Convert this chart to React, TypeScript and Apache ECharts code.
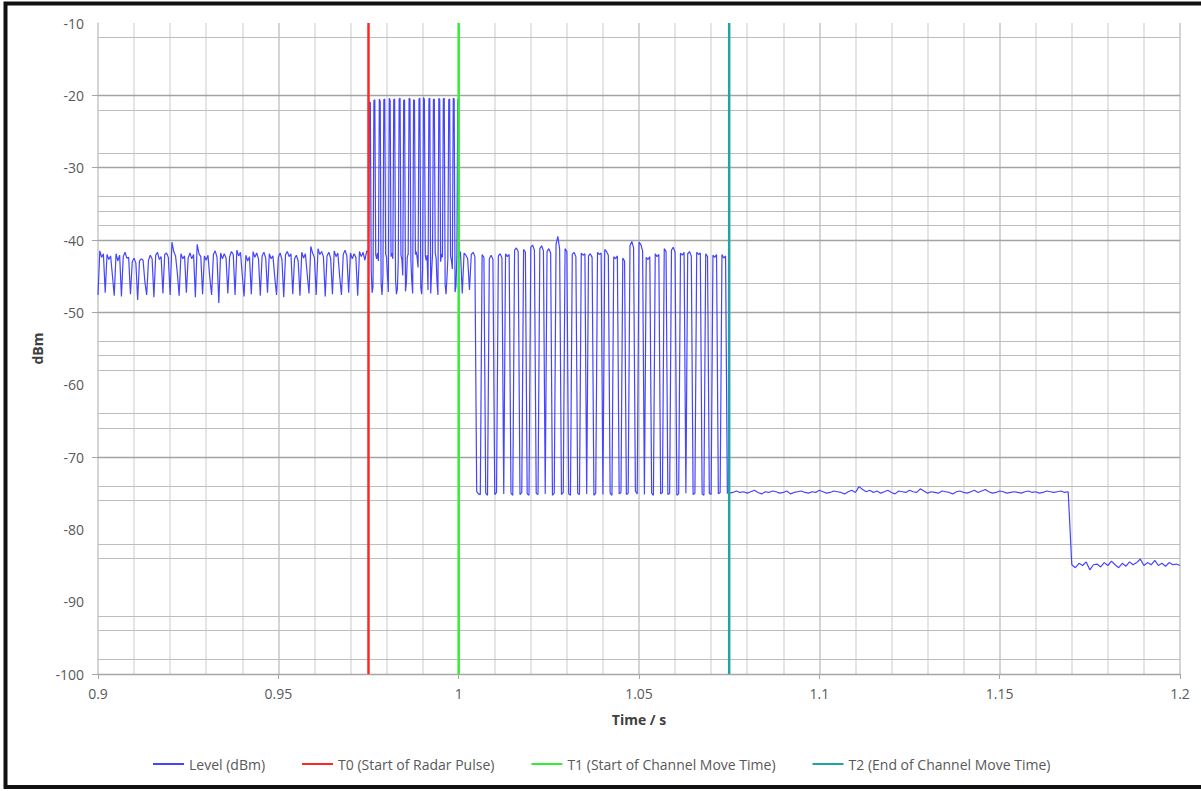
import React, { useEffect, useRef } from "react";
import * as echarts from "echarts";

// Measured level trace, split into sampled segments (dBm).
// 0.900 s – 0.975 s, every 0.5 ms: idle channel activity
const levelIdle = [
  -47.6,
  -41.5, -42.4, -41.9, -47.3,
  -42.0, -42.7, -42.2, -44.9, -47.7,
  -41.9, -42.9, -42.1, -47.8,
  -42.3, -41.7, -42.5, -42.4, -47.5,
  -43.0, -42.5, -43.2, -48.3,
  -42.9, -42.6, -42.8, -45.8, -47.6,
  -42.8, -42.1, -42.6, -47.9,
  -42.1, -41.7, -42.7, -42.3, -47.4,
  -42.0, -41.8, -42.4, -47.6,
  -40.3, -41.6, -42.2, -44.6, -47.7,
  -41.9, -42.6, -42.2, -47.3,
  -42.5, -41.8, -42.6, -42.0, -47.9,
  -40.6, -41.9, -42.3, -47.5,
  -42.2, -42.8, -42.1, -45.2, -47.6,
  -42.0, -41.5, -42.4, -48.7,
  -41.8, -42.6, -41.9, -42.5, -47.4,
  -42.3, -41.6, -42.0, -47.6,
  -41.4, -42.2, -41.7, -44.8, -47.8,
  -42.1, -42.9, -42.3, -47.5,
  -41.6, -42.4, -41.8, -42.6, -47.7,
  -42.2, -41.7, -42.5, -47.3,
  -41.9, -42.6, -42.2, -45.1, -47.6,
  -42.4, -41.8, -42.7, -47.9,
  -42.0, -41.6, -42.3, -41.9, -47.5,
  -42.6, -42.1, -42.9, -47.7,
  -41.7, -42.5, -41.9, -44.7, -47.4,
  -40.9, -41.8, -42.4, -47.6,
  -41.2, -42.0, -41.6, -42.3, -47.8,
  -42.2, -41.7, -42.5, -47.5,
  -41.5, -42.3, -41.8, -45.0, -47.6,
  -42.0, -41.4, -42.2, -47.3,
  -41.8, -42.6, -41.9, -42.4, -47.7,
  -41.6, -42.3, -41.7, -42.8, -41.5,
];

// 0.975 s – 1.000 s, every 0.25 ms: radar pulses on top of the traffic
const levelRadar = [
  -41.7,
  -20.9, -21.0, -44.2, -47.3, -46.5,
  -20.7, -20.6, -42.0, -42.6, -41.8, -42.9,
  -20.5, -20.8, -46.1, -47.6, -45.0,
  -20.6, -20.5, -41.9, -42.4, -44.8, -47.2,
  -20.4, -20.7, -42.3, -41.8, -42.6,
  -20.6, -20.5, -45.5, -47.5, -46.8, -43.0,
  -20.5, -20.4, -42.1, -42.7, -44.9,
  -20.7, -20.6, -47.1, -46.0, -42.4, -41.9,
  -20.4, -20.5, -42.8, -45.7, -47.4,
  -20.6, -20.7, -42.0, -41.6, -42.5, -43.8,
  -20.5, -20.4, -46.6, -47.5, -44.1,
  -20.3, -20.6, -42.2, -42.8, -42.1, -46.9,
  -20.5, -20.4, -47.4, -44.5, -42.0,
  -20.6, -20.5, -41.8, -42.5, -45.8, -47.6,
  -20.4, -20.6, -43.0, -41.9, -42.4,
  -20.5, -20.4, -46.2, -47.5, -45.3, -42.6,
  -20.6, -20.5, -42.2, -42.9, -44.0,
  -20.4, -20.5, -47.2, -46.4, -42.3, -20.5,
];

// 1.000 s – 1.005 s, every 0.5 ms
const levelAfterPulse = [-42.4, -41.6, -47.4, -41.8, -42.1, -42.6, -46.9, -42.0, -41.7, -42.3];

// 1.005 s – 1.075 s, every 0.5 ms: channel move in progress
const levelMove = [
  -74.8, -75.1, -75.2, -42.0, -42.4, -75.0, -75.3, -42.6, -42.1, -42.7,
  -75.2, -74.9, -42.2, -41.9, -42.5, -75.1, -41.9, -42.3, -42.0, -75.0,
  -75.3, -41.4, -41.1, -41.6, -75.2, -74.9, -41.3, -41.7, -75.1, -75.3,
  -41.0, -40.7, -41.4, -75.0, -75.2, -41.2, -40.8, -41.5, -75.1, -41.6,
  -41.2, -41.8, -75.3, -75.0, -40.6, -39.5, -41.3, -75.2, -74.9, -41.2,
  -41.6, -75.1, -75.3, -42.0, -41.7, -42.3, -75.0, -75.2, -41.8, -42.1,
  -41.9, -75.1, -42.2, -41.9, -42.4, -75.3, -75.0, -41.7, -42.0, -41.8,
  -75.2, -41.3, -41.6, -42.1, -75.0, -75.3, -42.3, -42.6, -42.2, -75.1,
  -74.9, -42.5, -42.9, -75.2, -75.0, -40.8, -40.2, -41.1, -74.7, -75.1,
  -40.3, -40.6, -41.5, -75.2, -42.4, -42.7, -42.3, -75.0, -75.3, -41.9,
  -42.3, -42.0, -75.1, -74.9, -41.2, -41.6, -75.2, -75.0, -41.4, -41.0,
  -41.7, -75.3, -75.1, -41.8, -42.1, -41.7, -75.0, -41.9, -41.6, -42.2,
  -75.2, -75.0, -41.7, -42.0, -41.8, -75.1, -75.3, -41.9, -42.3, -75.0,
  -75.2, -42.1, -42.4, -42.0, -75.1, -74.9, -42.0, -42.5, -42.2, -75.0,
];

// 1.075 s – 1.169 s, every 1 ms: residual level after the move
const levelResidual = [
  -75.0, -74.9, -74.7, -74.9, -74.8, -75.0, -74.8, -74.6, -74.9, -75.1,
  -74.8, -74.9, -74.7, -74.8, -75.0, -74.9, -74.7, -75.1, -74.9, -74.8,
  -74.7, -74.9, -75.0, -74.8, -74.9, -74.6, -74.8, -75.0, -74.9, -74.7,
  -74.8, -74.9, -75.1, -74.8, -74.6, -74.9, -74.1, -74.5, -74.8, -74.6,
  -74.9, -74.7, -75.0, -74.8, -74.6, -74.9, -75.1, -74.7, -74.8, -74.9,
  -74.6, -74.8, -74.9, -74.4, -74.7, -75.0, -74.8, -74.9, -75.0, -74.7,
  -74.8, -74.9, -75.1, -74.8, -74.7, -74.9, -75.0, -74.8, -74.6, -74.9,
  -74.7, -74.5, -74.8, -75.0, -74.9, -74.7, -74.8, -75.0, -74.9, -74.8,
  -74.9, -75.0, -74.8, -74.7, -74.9, -74.8, -75.0, -74.9, -74.7, -74.8,
  -74.9, -74.8, -74.7, -74.9, -74.8,
];

// 1.170 s – 1.200 s, every 1 ms: noise floor
const levelFloor = [
  -84.9, -85.3, -84.7, -85.0, -84.5, -85.6, -84.9, -84.8, -85.2, -84.6,
  -85.0, -84.4, -84.9, -85.3, -84.7, -85.1, -84.5, -84.9, -84.6, -84.1,
  -85.0, -84.6, -84.9, -84.3, -85.0, -84.7, -85.1, -84.6, -84.9, -84.8,
  -85.0,
];

const segmentStarts = [0.9, 0.975, 1.0, 1.005, 1.075, 1.17];
const segmentSteps = [0.0005, 0.00025, 0.0005, 0.0005, 0.001, 0.001];
const segmentValues = [levelIdle, levelRadar, levelAfterPulse, levelMove, levelResidual, levelFloor];

// Event markers (s)
const markerNames = [
  "T0 (Start of Radar Pulse)",
  "T1 (Start of Channel Move Time)",
  "T2 (End of Channel Move Time)",
];
const markerTimes = [0.975, 1.0, 1.075];
const levelName = "Level (dBm)";

// Axis ranges and visible horizontal rules (dBm)
const timeMin = 0.9;
const timeMax = 1.2;
const timeStep = 0.05;
const dbmMin = -100;
const dbmMax = -10;
const dbmStep = 10;
const majorRules = [-20, -30, -40, -50, -70];
const minorRules = [-12, -22, -28, -34, -36, -38, -46, -54, -56, -58, -64, -66, -74, -76, -82, -84, -92, -94, -98];
const dbmTicks = [-20, -30, -40, -50, -70, -100];

const levelColor = "#4545ff";
const markerColors = ["#ff2626", "#33ee33", "#22a3a3"];
const FONT = "Open Sans";

function buildLevelPoints(): [number, number][] {
  const pts: [number, number][] = [];
  segmentValues.forEach((vals, s) => {
    vals.forEach((v, i) => {
      const t = Number((segmentStarts[s] + i * segmentSteps[s]).toFixed(6));
      pts.push([t, v]);
    });
  });
  return pts;
}

export default function App() {
  const ref = useRef<HTMLDivElement>(null);

  useEffect(() => {
    if (!ref.current) return;
    const chart = echarts.init(ref.current, undefined, { renderer: "svg" });

    const ruleLine = (v: number, major: boolean) => ({
      yAxis: v,
      lineStyle: { color: major ? "#a3a3a3" : "#bdbdbd", width: major ? 1.3 : 1, type: "solid" },
    });

    const option: any = {
      animation: false,
      backgroundColor: "#ffffff",
      textStyle: { fontFamily: FONT },
      grid: { left: 98, right: 21, top: 23, bottom: 117, containLabel: false },
      legend: {
        data: [levelName, ...markerNames].map((name) => ({ name, icon: "rect" })),
        left: 148,
        top: 752,
        itemWidth: 31,
        itemHeight: 2,
        itemGap: 37,
        textStyle: { fontSize: 14, color: "#595959", fontFamily: FONT },
      },
      xAxis: {
        type: "value",
        min: timeMin,
        max: timeMax,
        interval: timeStep,
        name: "Time / s",
        nameLocation: "middle",
        nameGap: 38,
        nameTextStyle: { fontWeight: "bold", fontSize: 14, color: "#404040", fontFamily: FONT },
        axisLine: { show: true, onZero: false, lineStyle: { color: "#a6a6a6", width: 1.3 } },
        axisTick: { show: true, inside: false, length: 5, lineStyle: { color: "#a6a6a6" } },
        axisLabel: { margin: 12, fontSize: 14, color: "#595959", fontFamily: FONT },
        splitLine: { show: true, lineStyle: { color: "#c6c6c6", width: 1.5 } },
        minorTick: { show: false, splitNumber: 5 },
        minorSplitLine: { show: true, lineStyle: { color: "#dcdcdc", width: 1.5 } },
      },
      yAxis: {
        type: "value",
        min: dbmMin,
        max: dbmMax,
        interval: dbmStep,
        name: "dBm",
        nameLocation: "middle",
        nameGap: 48,
        nameTextStyle: { fontWeight: "bold", fontSize: 14, color: "#404040", fontFamily: FONT },
        axisLine: { show: true, lineStyle: { color: "#d4d4d4", width: 1.5 } },
        axisTick: { show: true, length: 6, customValues: dbmTicks, lineStyle: { color: "#a6a6a6" } },
        axisLabel: { margin: 14, fontSize: 14, color: "#595959", fontFamily: FONT },
        splitLine: { show: false },
      },
      graphic: [
        {
          type: "rect",
          shape: { x: 5.5, y: 3.5, width: 1220, height: 783.5 },
          style: { fill: "none", stroke: "#111111", lineWidth: 4 },
          silent: true,
          z: 100,
        },
      ],
      series: [
        {
          name: "rules",
          type: "line",
          data: [],
          z: 1,
          silent: true,
          markLine: {
            silent: true,
            z: 1,
            symbol: ["none", "none"],
            label: { show: false },
            emphasis: { disabled: true },
            data: [...majorRules.map((v) => ruleLine(v, true)), ...minorRules.map((v) => ruleLine(v, false))],
          },
        },
        {
          name: levelName,
          type: "line",
          data: buildLevelPoints(),
          symbol: "none",
          showSymbol: false,
          color: levelColor,
          lineStyle: { color: levelColor, width: 1.2 },
          emphasis: { disabled: true },
          z: 3,
        },
        ...markerNames.map((name, i) => ({
          name,
          type: "line",
          data: [
            [markerTimes[i], dbmMax],
            [markerTimes[i], dbmMin],
          ],
          symbol: "none",
          showSymbol: false,
          color: markerColors[i],
          lineStyle: { color: markerColors[i], width: 2.5 },
          emphasis: { disabled: true },
          z: 4,
        })),
      ],
    };

    chart.setOption(option);
    return () => chart.dispose();
  }, []);

  return (
    <div
      ref={ref}
      style={{ position: "absolute", left: 0, top: 0, width: 1201, height: 791 }}
    />
  );
}
